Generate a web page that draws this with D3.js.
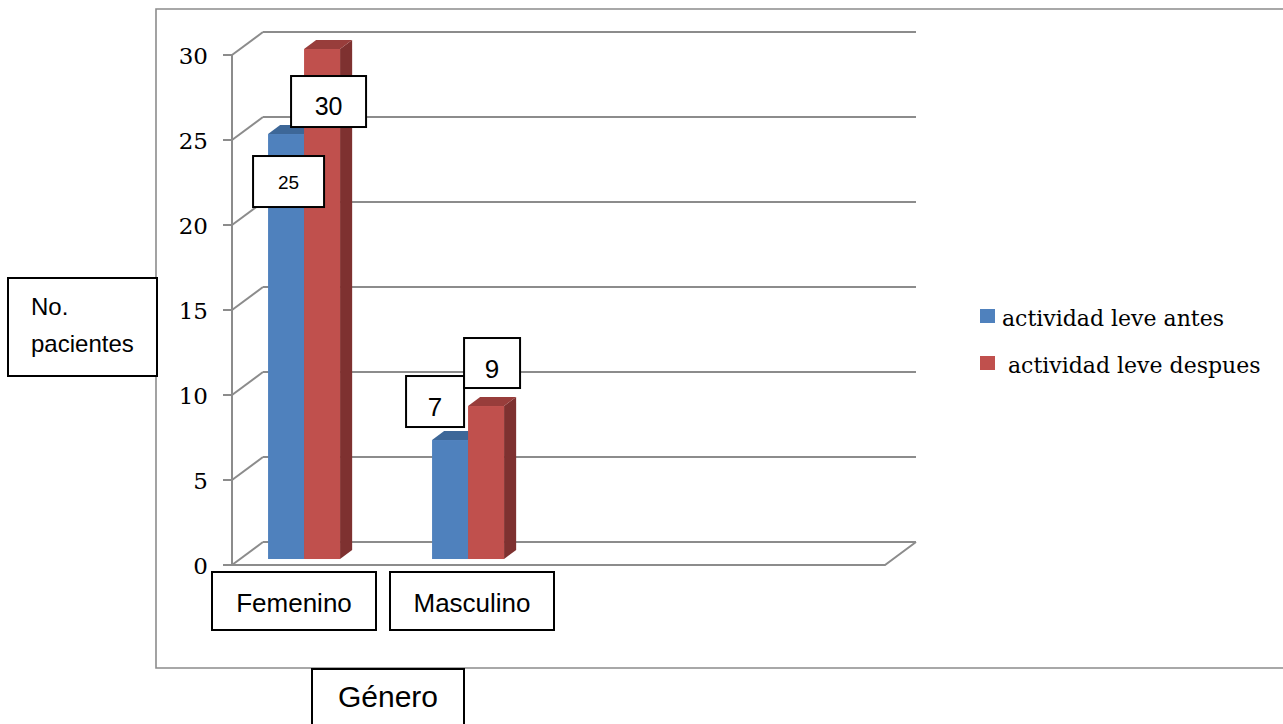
<!DOCTYPE html>
<html>
<head>
<meta charset="utf-8">
<script src="https://cdn.jsdelivr.net/npm/d3@7"></script>
<style>
  html, body { margin: 0; padding: 0; background: #fff; }
  svg { display: block; }
</style>
</head>
<body>
<div id="chart"></div>
<script>
const width = 1283;
const height = 724;

// chart values
const categories = ["Femenino", "Masculino"];
const seriesNames = ["actividad leve antes", "actividad leve despues"];
const antes = [25, 7];
const despues = [30, 9];
const yTicks = [0, 5, 10, 15, 20, 25, 30];
const yTitle = ["No.", "pacientes"];
const xTitle = "Género";

const colors = ["#4f81bd", "#c0504d"];
const topColors = ["#3d6798", "#983d3b"];
const sideColors = ["#3a5f8c", "#7e3130"];
const gridColor = "#8c8c8c";

// 3D depth of the plot box, and where the bars sit inside it
const depthDx = 31, depthDy = -23;
const barFront = 0.26, barBack = 0.65;
const off = f => [depthDx * f, depthDy * f];

const y = d3.scaleLinear().domain([0, 30]).range([565, 55]);
const x = d3.scaleBand().domain(categories).range([214, 542]);
const xs = d3.scaleBand().domain(seriesNames).range([-36, 36]);
const plotLeft = 232, plotRight = 885;

const svg = d3.select("#chart").append("svg")
    .attr("width", width)
    .attr("height", height);

// outer chart frame (right edge is off the picture)
svg.append("path")
    .attr("d", "M1290,9H156V668H1290")
    .attr("fill", "none")
    .attr("stroke", gridColor)
    .attr("stroke-width", 1.6);

// back wall gridlines + side wall diagonals
const grid = svg.append("g").attr("stroke", gridColor).attr("stroke-width", 2).attr("fill", "none");
const [bx, by] = off(1);
yTicks.forEach(t => {
    grid.append("line")
        .attr("x1", plotLeft + bx).attr("y1", y(t) + by)
        .attr("x2", plotRight + bx).attr("y2", y(t) + by);
    grid.append("line")
        .attr("x1", plotLeft - 9).attr("y1", y(t))
        .attr("x2", plotLeft).attr("y2", y(t));
    grid.append("line")
        .attr("x1", plotLeft).attr("y1", y(t))
        .attr("x2", plotLeft + bx).attr("y2", y(t) + by);
});
// floor front edge and right edge
grid.append("path")
    .attr("d", `M${plotLeft},${y(0)}H${plotRight}L${plotRight + bx},${y(0) + by}`);
// front vertical axis
grid.append("line")
    .attr("x1", plotLeft).attr("y1", y(30))
    .attr("x2", plotLeft).attr("y2", y(0));

// y tick labels
svg.append("g")
    .selectAll("text")
    .data(yTicks)
    .enter()
    .append("text")
    .attr("x", 208)
    .attr("y", d => y(d) + 9)
    .attr("text-anchor", "end")
    .attr("font-family", "DejaVu Serif")
    .attr("font-size", 23)
    .attr("fill", "#000")
    .text(d => d);

// bars
const values = [antes, despues];
const bars = [];
categories.forEach((c, ci) => {
    seriesNames.forEach((s, si) => {
        bars.push({ cat: c, series: s, si: si, ci: ci, value: values[si][ci] });
    });
});

const [fx, fy] = off(barFront);
const [kx, ky] = off(barBack);
const bar = svg.append("g").selectAll("g")
    .data(bars)
    .enter()
    .append("g");

bar.each(function(d) {
    const g = d3.select(this);
    const x0 = x(d.cat) + x.bandwidth() / 2 + xs(d.series) + fx;
    const x1 = x0 + xs.bandwidth();
    const yt = y(d.value) + fy;
    const yb = y(0) + fy;
    const dx = kx - fx, dy = ky - fy;
    d.left = x0; d.top = yt;
    g.append("path")
        .attr("d", `M${x1},${yt}L${x1 + dx},${yt + dy}V${yb + dy}L${x1},${yb}Z`)
        .attr("fill", sideColors[d.si]);
    g.append("path")
        .attr("d", `M${x0},${yt}L${x0 + dx},${yt + dy}H${x1 + dx}L${x1},${yt}Z`)
        .attr("fill", topColors[d.si]);
    g.append("rect")
        .attr("x", x0).attr("y", yt)
        .attr("width", xs.bandwidth()).attr("height", yb - yt)
        .attr("fill", colors[d.si]);
});

// data labels, dragged around by hand in the original
const labelBoxes = [
    { dx: -15, dy: 22, w: 71, h: 51, fs: 19, base: 33 },
    { dx: -13, dy: 27, w: 75, h: 51, fs: 25, base: 39 },
    { dx: -26, dy: -64, w: 58, h: 51, fs: 26, base: 40 },
    { dx: -4, dy: -68, w: 56, h: 50, fs: 26, base: 40 }
];
const labels = svg.append("g").selectAll("g")
    .data(bars)
    .enter()
    .append("g")
    .attr("transform", (d, i) => `translate(${d.left + labelBoxes[i].dx},${d.top + labelBoxes[i].dy})`);
labels.append("rect")
    .attr("width", (d, i) => labelBoxes[i].w)
    .attr("height", (d, i) => labelBoxes[i].h)
    .attr("fill", "#fff")
    .attr("stroke", "#000")
    .attr("stroke-width", 2);
labels.append("text")
    .attr("x", (d, i) => labelBoxes[i].w / 2)
    .attr("y", (d, i) => labelBoxes[i].base)
    .attr("text-anchor", "middle")
    .attr("font-family", "Liberation Sans, Arial")
    .attr("font-size", (d, i) => labelBoxes[i].fs)
    .text(d => d.value);

// category labels in boxes
const catShift = [-2, 12];
const cat = svg.append("g").selectAll("g")
    .data(categories)
    .enter()
    .append("g")
    .attr("transform", (d, i) => `translate(${x(d) + x.bandwidth() / 2 + catShift[i] - 82},572)`);
cat.append("rect")
    .attr("width", 164).attr("height", 58)
    .attr("fill", "#fff").attr("stroke", "#000").attr("stroke-width", 2);
cat.append("text")
    .attr("x", 82).attr("y", 40)
    .attr("text-anchor", "middle")
    .attr("font-family", "Liberation Sans, Arial")
    .attr("font-size", 26)
    .text(d => d);

// axis titles
const yt = svg.append("g").attr("transform", "translate(8,278)");
yt.append("rect")
    .attr("width", 149).attr("height", 98)
    .attr("fill", "#fff").attr("stroke", "#000").attr("stroke-width", 2);
yt.selectAll("text")
    .data(yTitle)
    .enter()
    .append("text")
    .attr("x", 23)
    .attr("y", (d, i) => 37 + i * 37)
    .attr("font-family", "Liberation Sans, Arial")
    .attr("font-size", 24)
    .text(d => d);

const xt = svg.append("g").attr("transform", "translate(312,669)");
xt.append("rect")
    .attr("width", 152).attr("height", 70)
    .attr("fill", "#fff").attr("stroke", "#000").attr("stroke-width", 2);
xt.append("text")
    .attr("x", 76).attr("y", 38)
    .attr("text-anchor", "middle")
    .attr("font-family", "Liberation Sans, Arial")
    .attr("font-size", 30)
    .text(xTitle);

// legend
const legend = svg.append("g").selectAll("g")
    .data(seriesNames)
    .enter()
    .append("g")
    .attr("transform", (d, i) => `translate(980,${309 + i * 47})`);
legend.append("rect")
    .attr("width", 15).attr("height", 14)
    .attr("fill", (d, i) => colors[i]);
legend.append("text")
    .attr("x", (d, i) => i === 0 ? 22 : 28)
    .attr("y", 17)
    .attr("font-family", "DejaVu Serif")
    .attr("font-size", 22)
    .text(d => d);
</script>
</body>
</html>
